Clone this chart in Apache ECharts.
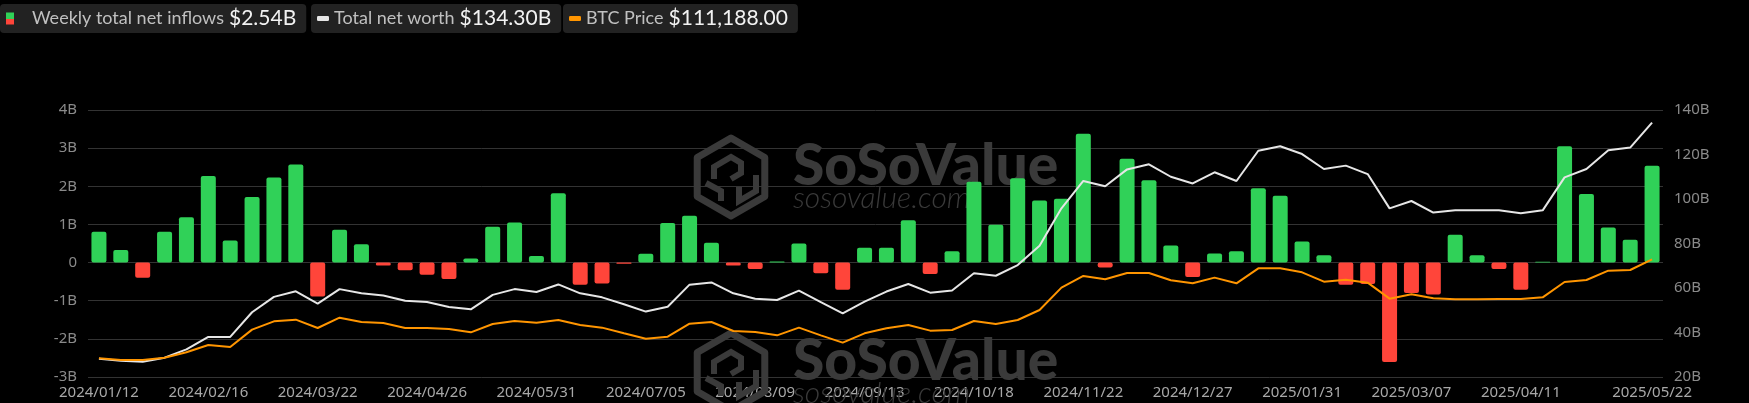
<!DOCTYPE html>
<html>
<head>
<meta charset="utf-8">
<script src="https://cdn.jsdelivr.net/npm/echarts@6/dist/echarts.min.js"></script>
<style>
html,body{margin:0;padding:0;background:#000;}
#chart{width:1749px;height:403px;}
</style>
</head>
<body>
<div id="chart"></div>
<script>
const categories = [
"2024/01/12","2024/01/19","2024/01/26","2024/02/02","2024/02/09","2024/02/16","2024/02/23","2024/03/01","2024/03/08","2024/03/15",
"2024/03/22","2024/03/29","2024/04/05","2024/04/12","2024/04/19","2024/04/26","2024/05/03","2024/05/10","2024/05/17","2024/05/24",
"2024/05/31","2024/06/07","2024/06/14","2024/06/21","2024/06/28","2024/07/05","2024/07/12","2024/07/19","2024/07/26","2024/08/02",
"2024/08/09","2024/08/16","2024/08/23","2024/08/30","2024/09/06","2024/09/13","2024/09/20","2024/09/27","2024/10/04","2024/10/11",
"2024/10/18","2024/10/25","2024/11/01","2024/11/08","2024/11/15","2024/11/22","2024/11/29","2024/12/06","2024/12/13","2024/12/20",
"2024/12/27","2025/01/03","2025/01/10","2025/01/17","2025/01/24","2025/01/31","2025/02/07","2025/02/14","2025/02/21","2025/02/28",
"2025/03/07","2025/03/14","2025/03/21","2025/03/28","2025/04/04","2025/04/11","2025/04/18","2025/04/25","2025/05/02","2025/05/09",
"2025/05/16","2025/05/22"];

// Weekly total net inflows (billion USD)
const inflows = [
0.81,0.33,-0.40,0.81,1.19,2.27,0.58,1.72,2.23,2.57,
-0.89,0.86,0.48,-0.08,-0.20,-0.32,-0.43,0.11,0.94,1.05,
0.17,1.82,-0.58,-0.55,-0.03,0.23,1.04,1.23,0.52,-0.08,
-0.17,0.03,0.50,-0.28,-0.71,0.39,0.39,1.11,-0.30,0.30,
2.12,0.99,2.21,1.63,1.67,3.38,-0.13,2.72,2.16,0.45,
-0.38,0.24,0.30,1.95,1.75,0.55,0.19,-0.58,-0.56,-2.61,
-0.80,-0.84,0.73,0.19,-0.17,-0.71,0.02,3.05,1.80,0.92,
0.60,2.54];

// Total net worth (billion USD)
const netWorth = [
28.2,27.3,26.9,28.7,32.4,38.0,38.0,49.1,56.0,58.5,
53.0,59.5,57.6,56.6,54.3,53.7,51.5,50.4,56.9,59.5,
58.2,61.6,57.6,55.8,52.7,49.4,51.6,61.5,62.5,57.6,
55.2,54.6,58.8,53.7,48.6,53.9,58.4,61.8,57.9,58.9,
66.6,65.5,70.3,79.0,95.8,108.1,105.7,113.3,115.6,110.0,
107.0,112.0,108.1,121.7,123.7,120.2,113.5,115.0,111.2,95.8,
99.1,93.9,94.9,94.9,94.9,93.6,94.9,109.7,113.5,121.9,
123.1,134.30];

// BTC price (USD)
const btcPrice = [
43470,42330,42330,43930,47580,52590,51220,63080,68780,69920,
64220,71290,68320,67640,64220,64220,63540,61260,66960,69010,
67870,69690,66270,64450,60570,56920,58290,67180,68320,62170,
61480,59200,64450,59200,54190,60570,63990,66270,62400,62850,
69010,66960,69690,76530,91810,99790,97510,101840,101840,96820,
94770,98650,94770,105030,105030,102300,95910,97280,95230,84280,
87250,84510,83830,83830,84060,84060,85200,95680,97050,103440,
103890,111188];

const leftTicks = {min: -3, max: 4, interval: 1};
const rightTicks = {min: 20, max: 140, interval: 20};

const GREEN = '#30d158', RED = '#ff453a', WHITE = '#e6e6e6', ORANGE = '#ff9500';
const FONT = 'Lato, "Noto Sans", sans-serif';

const lastInflow = inflows[inflows.length - 1];
const lastWorth = netWorth[netWorth.length - 1];
const lastBtc = btcPrice[btcPrice.length - 1];
const fmtB = v => '$' + v.toFixed(2) + 'B';
const fmtUsd = v => '$' + v.toLocaleString('en-US', {minimumFractionDigits: 2, maximumFractionDigits: 2});

const chart = echarts.init(document.getElementById('chart'), null, {renderer: 'canvas'});

function legendBox(left, name, valueText, icon, iw, ih, color, gap) {
  return {
    left: left, top: 4,
    backgroundColor: '#222222', borderRadius: 4,
    padding: [4, 10, 4, 6],
    itemWidth: iw, itemHeight: ih,
    selectedMode: false,
    data: [{name: name, icon: icon, itemStyle: {color: color}}],
    formatter: n => '{n|' + n + '} {v|' + valueText + '}',
    textStyle: {
      padding: [0, 0, 0, gap],
      rich: {
        n: {fontFamily: FONT, fontSize: 18, color: '#c0c0c0', lineHeight: 21},
        v: {fontFamily: FONT, fontSize: 21, color: '#f2f2f2', lineHeight: 21, padding: [0, 0, 0, 2]}
      }
    }
  };
}

const barIconColor = {
  type: 'linear', x: 0, y: 0, x2: 0, y2: 1,
  colorStops: [{offset: 0, color: GREEN}, {offset: 0.5, color: GREEN}, {offset: 0.5, color: RED}, {offset: 1, color: RED}]
};

// Watermark (logo + text), drawn twice
function watermark(cx, cy, tx, ty) {
  const r = 39;
  const pts = [];
  for (let k = 0; k < 6; k++) {
    const a = Math.PI / 180 * (60 * k - 90);
    pts.push([cx + r * Math.cos(a), cy + r * Math.sin(a)]);
  }
  const c = '#3a3a3a';
  return [
    {type: 'polygon', z: 1, silent: true, shape: {points: pts}, style: {fill: 'none', stroke: c, lineWidth: 7, lineJoin: 'round'}},
    {type: 'polyline', z: 1, silent: true, shape: {points: [[cx - 17, cy + 2], [cx - 17, cy - 10], [cx, cy - 20], [cx + 10, cy - 14], [cx + 10, cy - 4], [cx, cy + 2]]}, style: {fill: 'none', stroke: c, lineWidth: 6}},
    {type: 'polyline', z: 1, silent: true, shape: {points: [[cx - 25, cy + 6], [cx - 10, cy + 14], [cx - 10, cy + 24]]}, style: {fill: 'none', stroke: c, lineWidth: 6}},
    {type: 'polyline', z: 1, silent: true, shape: {points: [[cx + 25, cy - 2], [cx + 25, cy + 14], [cx + 8, cy + 24], [cx + 8, cy + 10]]}, style: {fill: 'none', stroke: c, lineWidth: 6}},
    {type: 'text', z: 1, silent: true, left: tx, top: ty - 2, style: {text: 'SoSoValue', fill: c, font: '900 57px Lato, sans-serif'}},
    {type: 'text', z: 1, silent: true, left: tx, top: ty + 43, style: {text: 'sosovalue.com', fill: c, font: 'italic 300 30px Lato, sans-serif'}}
  ];
}

const option = {
  backgroundColor: '#000000',
  animation: false,
  textStyle: {fontFamily: FONT},
  legend: [
    legendBox(0, 'Weekly total net inflows', fmtB(lastInflow), 'rect', 8, 12, barIconColor, 13),
    legendBox(311, 'Total net worth', fmtB(lastWorth), 'roundRect', 12, 5, WHITE, 0),
    legendBox(563, 'BTC Price', fmtUsd(lastBtc), 'roundRect', 12, 5, ORANGE, 0)
  ],
  graphic: [].concat(watermark(731, 177, 793, 140), watermark(731, 372, 793, 335)),
  grid: {left: 88, right: 86, top: 110, bottom: 26, containLabel: false},
  xAxis: {
    type: 'category',
    data: categories,
    boundaryGap: true,
    axisLine: {show: false},
    axisTick: {show: false},
    axisLabel: {
      color: '#a8a8a8', fontSize: 15, fontFamily: '"Noto Sans", sans-serif', margin: 8,
      interval: (i) => (i % 5 === 0 && i !== 70) || i === categories.length - 1,
      hideOverlap: false
    },
    splitLine: {show: false}
  },
  yAxis: [
    {
      type: 'value', position: 'left',
      min: leftTicks.min, max: leftTicks.max, interval: leftTicks.interval,
      axisLine: {show: false}, axisTick: {show: false},
      axisLabel: {color: '#8a8a8a', fontSize: 15, fontFamily: '"Noto Sans", sans-serif', margin: 11,
        formatter: v => v === 0 ? '0' : v + 'B'},
      splitLine: {lineStyle: {color: '#333333', width: 1}}
    },
    {
      type: 'value', position: 'right',
      min: rightTicks.min, max: rightTicks.max, interval: rightTicks.interval,
      axisLine: {show: false}, axisTick: {show: false},
      axisLabel: {color: '#8a8a8a', fontSize: 15, fontFamily: '"Noto Sans", sans-serif', margin: 11,
        formatter: v => v + 'B'},
      splitLine: {show: false}
    },
    {
      type: 'value', show: false, min: 30700, max: 213300,
      splitLine: {show: false}
    }
  ],
  series: [
    {
      name: 'Weekly total net inflows',
      type: 'bar',
      yAxisIndex: 0,
      data: inflows,
      barWidth: 15,
      z: 2,
      itemStyle: {
        color: p => p.value >= 0 ? GREEN : RED,
        borderRadius: 2
      }
    },
    {
      name: 'Total net worth',
      type: 'line',
      yAxisIndex: 1,
      data: netWorth,
      showSymbol: false,
      z: 3,
      lineStyle: {color: WHITE, width: 2},
      itemStyle: {color: WHITE}
    },
    {
      name: 'BTC Price',
      type: 'line',
      yAxisIndex: 2,
      data: btcPrice,
      showSymbol: false,
      z: 3,
      lineStyle: {color: ORANGE, width: 2},
      itemStyle: {color: ORANGE}
    }
  ]
};
chart.setOption(option);
</script>
</body>
</html>
